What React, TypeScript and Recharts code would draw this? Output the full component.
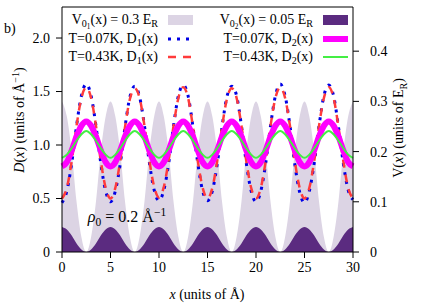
import React from "react";
import { ComposedChart, Area, Line, XAxis, YAxis } from "recharts";

// positions along x (units of Å)
const xs = [
  0, 0.5, 1, 1.5, 2, 2.5, 3, 3.5, 4, 4.5,
  5, 5.5, 6, 6.5, 7, 7.5, 8, 8.5, 9, 9.5,
  10, 10.5, 11, 11.5, 12, 12.5, 13, 13.5, 14, 14.5,
  15, 15.5, 16, 16.5, 17, 17.5, 18, 18.5, 19, 19.5,
  20, 20.5, 21, 21.5, 22, 22.5, 23, 23.5, 24, 24.5,
  25, 25.5, 26, 26.5, 27, 27.5, 28, 28.5, 29, 29.5,
  30,
];

// potentials (units of E_R)
const v1 = [
  0.3, 0.27, 0.2, 0.1, 0.03, 0, 0.03, 0.1, 0.2, 0.27,
  0.3, 0.27, 0.2, 0.1, 0.03, 0, 0.03, 0.1, 0.2, 0.27,
  0.3, 0.27, 0.2, 0.1, 0.03, 0, 0.03, 0.1, 0.2, 0.27,
  0.3, 0.27, 0.2, 0.1, 0.03, 0, 0.03, 0.1, 0.2, 0.27,
  0.3, 0.27, 0.2, 0.1, 0.03, 0, 0.03, 0.1, 0.2, 0.27,
  0.3, 0.27, 0.2, 0.1, 0.03, 0, 0.03, 0.1, 0.2, 0.27,
  0.3,
];
const v2 = [
  0.05, 0.045, 0.033, 0.017, 0.005, 0, 0.005, 0.017, 0.033, 0.045,
  0.05, 0.045, 0.033, 0.017, 0.005, 0, 0.005, 0.017, 0.033, 0.045,
  0.05, 0.045, 0.033, 0.017, 0.005, 0, 0.005, 0.017, 0.033, 0.045,
  0.05, 0.045, 0.033, 0.017, 0.005, 0, 0.005, 0.017, 0.033, 0.045,
  0.05, 0.045, 0.033, 0.017, 0.005, 0, 0.005, 0.017, 0.033, 0.045,
  0.05, 0.045, 0.033, 0.017, 0.005, 0, 0.005, 0.017, 0.033, 0.045,
  0.05,
];

// densities (units of 1/Å)
const d1Cold = [
  0.46, 0.57, 0.83, 1.18, 1.46, 1.57, 1.46, 1.18, 0.83, 0.57,
  0.47, 0.57, 0.82, 1.17, 1.45, 1.55, 1.45, 1.18, 0.84, 0.58,
  0.48, 0.58, 0.83, 1.18, 1.46, 1.56, 1.46, 1.17, 0.83, 0.57,
  0.48, 0.57, 0.82, 1.17, 1.45, 1.55, 1.46, 1.18, 0.83, 0.57,
  0.47, 0.57, 0.83, 1.18, 1.46, 1.57, 1.46, 1.18, 0.82, 0.56,
  0.46, 0.57, 0.83, 1.18, 1.46, 1.56, 1.46, 1.17, 0.83, 0.58,
  0.49,
];
const d1Warm = [
  0.5, 0.6, 0.85, 1.18, 1.44, 1.54, 1.44, 1.18, 0.85, 0.6,
  0.5, 0.6, 0.85, 1.17, 1.43, 1.53, 1.44, 1.18, 0.86, 0.61,
  0.51, 0.61, 0.86, 1.18, 1.44, 1.54, 1.44, 1.17, 0.85, 0.6,
  0.5, 0.6, 0.85, 1.17, 1.43, 1.53, 1.44, 1.18, 0.85, 0.6,
  0.5, 0.6, 0.85, 1.18, 1.44, 1.54, 1.44, 1.18, 0.85, 0.6,
  0.5, 0.6, 0.85, 1.18, 1.44, 1.54, 1.44, 1.17, 0.85, 0.6,
  0.5,
];
const d2Cold = [
  0.8, 0.84, 0.95, 1.08, 1.18, 1.22, 1.18, 1.08, 0.95, 0.84,
  0.8, 0.84, 0.95, 1.08, 1.18, 1.22, 1.18, 1.08, 0.95, 0.84,
  0.8, 0.84, 0.95, 1.08, 1.18, 1.22, 1.18, 1.08, 0.95, 0.84,
  0.8, 0.84, 0.95, 1.08, 1.18, 1.22, 1.18, 1.08, 0.95, 0.84,
  0.8, 0.84, 0.95, 1.08, 1.18, 1.22, 1.18, 1.08, 0.95, 0.84,
  0.8, 0.84, 0.95, 1.08, 1.18, 1.22, 1.18, 1.08, 0.95, 0.84,
  0.8,
];
const d2Warm = [
  0.88, 0.91, 0.97, 1.04, 1.1, 1.13, 1.1, 1.04, 0.97, 0.91,
  0.88, 0.91, 0.97, 1.04, 1.1, 1.13, 1.1, 1.04, 0.97, 0.91,
  0.88, 0.91, 0.97, 1.04, 1.1, 1.13, 1.1, 1.04, 0.97, 0.91,
  0.88, 0.91, 0.97, 1.04, 1.1, 1.13, 1.1, 1.04, 0.97, 0.91,
  0.88, 0.91, 0.97, 1.04, 1.1, 1.13, 1.1, 1.04, 0.97, 0.91,
  0.88, 0.91, 0.97, 1.04, 1.1, 1.13, 1.1, 1.04, 0.97, 0.91,
  0.88,
];

const xTicks = [0, 5, 10, 15, 20, 25, 30];
const dTicks = [0, 0.5, 1, 1.5, 2];
const vTicks = [0, 0.1, 0.2, 0.3, 0.4];

const data = xs.map((x, i) => ({
  x,
  v1: v1[i],
  v2: v2[i],
  d1Cold: d1Cold[i],
  d1Warm: d1Warm[i],
  d2Cold: d2Cold[i],
  d2Warm: d2Warm[i],
}));

const FONT = '"Liberation Serif", "Times New Roman", serif';
const tickStyle = { fill: "#000", fontSize: 14, fontFamily: FONT };

const sub = (t: React.ReactNode) => (
  <span style={{ fontSize: "0.72em", verticalAlign: "-0.3em" }}>{t}</span>
);
const sup = (t: React.ReactNode) => (
  <span style={{ fontSize: "0.72em", verticalAlign: "0.55em" }}>{t}</span>
);

const legendRows = [
  {
    right: 158, x1: 168, y: 20,
    text: <>V{sub(<>0{sub("1")}</>)}(x) = 0.3 E{sub("R")}</>,
    swatch: { kind: "box", color: "#dcd4e4" },
  },
  {
    right: 158, x1: 168, y: 39,
    text: <>T=0.07K, D{sub("1")}(x)</>,
    swatch: { kind: "line", color: "#0000e6", width: 3, dash: "3 6" },
  },
  {
    right: 158, x1: 168, y: 57,
    text: <>T=0.43K, D{sub("1")}(x)</>,
    swatch: { kind: "line", color: "#ff3b3b", width: 2.5, dash: "8 7" },
  },
  {
    right: 313, x1: 323, y: 20,
    text: <>V{sub(<>0{sub("2")}</>)}(x) = 0.05 E{sub("R")}</>,
    swatch: { kind: "box", color: "#5b2b80" },
  },
  {
    right: 313, x1: 323, y: 39,
    text: <>T=0.07K, D{sub("2")}(x)</>,
    swatch: { kind: "line", color: "#ff00ff", width: 6 },
  },
  {
    right: 313, x1: 323, y: 57,
    text: <>T=0.43K, D{sub("2")}(x)</>,
    swatch: { kind: "line", color: "#44ee44", width: 2 },
  },
];

export default function App() {
  return (
    <div
      style={{
        position: "absolute",
        left: 0,
        top: 0,
        width: 436,
        height: 305,
        background: "#fff",
        fontFamily: FONT,
        color: "#000",
      }}
    >
      <ComposedChart
        width={436}
        height={305}
        data={data}
        margin={{ top: 0, right: 0, bottom: 0, left: 0 }}
      >
        <XAxis
          xAxisId={0}
          dataKey="x"
          type="number"
          domain={[0, 30]}
          ticks={xTicks}
          height={53}
          tickSize={6}
          tickMargin={4}
          tick={tickStyle}
          stroke="#000"
        />
        <XAxis
          xAxisId="top"
          orientation="top"
          dataKey="x"
          type="number"
          domain={[0, 30]}
          ticks={xTicks}
          height={7}
          tickSize={6}
          tick={false}
          stroke="#000"
        />
        <YAxis
          yAxisId="left"
          type="number"
          domain={[0, 2.29]}
          ticks={dTicks}
          width={62}
          tickSize={6}
          tickMargin={6}
          tick={tickStyle}
          tickFormatter={(v: number) => (v === 0 ? "0" : v.toFixed(1))}
          stroke="#000"
        />
        <YAxis
          yAxisId="right"
          orientation="right"
          type="number"
          domain={[0, 0.488]}
          ticks={vTicks}
          width={83}
          tickSize={6}
          tickMargin={11}
          tick={{ ...tickStyle, textAnchor: "start" }}
          tickFormatter={(v: number) => (v === 0 ? "0" : v.toFixed(1))}
          stroke="#000"
        />
        <Area
          yAxisId="right"
          dataKey="v1"
          type="monotone"
          fill="#dcd4e4"
          fillOpacity={1}
          stroke="none"
          isAnimationActive={false}
        />
        <Area
          yAxisId="right"
          dataKey="v2"
          type="monotone"
          fill="#5b2b80"
          fillOpacity={1}
          stroke="none"
          isAnimationActive={false}
        />
        <Line
          yAxisId="left"
          dataKey="d1Cold"
          type="monotone"
          stroke="#0000e6"
          strokeWidth={3}
          strokeDasharray="3 6"
          dot={false}
          isAnimationActive={false}
        />
        <Line
          yAxisId="left"
          dataKey="d1Warm"
          type="monotone"
          stroke="#ff3b3b"
          strokeWidth={2.5}
          strokeDasharray="8 7"
          dot={false}
          isAnimationActive={false}
        />
        <Line
          yAxisId="left"
          dataKey="d2Cold"
          type="monotone"
          stroke="#ff00ff"
          strokeWidth={6}
          dot={false}
          isAnimationActive={false}
        />
        <Line
          yAxisId="left"
          dataKey="d2Warm"
          type="monotone"
          stroke="#44ee44"
          strokeWidth={2}
          dot={false}
          isAnimationActive={false}
        />
      </ComposedChart>

      {/* key, drawn over the top of the plot */}
      {legendRows.map((r, i) => (
        <React.Fragment key={i}>
          <div
            style={{
              position: "absolute",
              right: 436 - r.right,
              top: r.y - 9,
              height: 18,
              lineHeight: "18px",
              fontSize: 14,
              whiteSpace: "nowrap",
            }}
          >
            {r.text}
          </div>
          <svg
            width={26}
            height={12}
            style={{ position: "absolute", left: r.x1, top: r.y - 6 }}
          >
            {r.swatch.kind === "box" ? (
              <rect x={0} y={1} width={25} height={10} fill={r.swatch.color} />
            ) : (
              <line
                x1={0}
                y1={6}
                x2={25}
                y2={6}
                stroke={r.swatch.color}
                strokeWidth={r.swatch.width}
                strokeDasharray={r.swatch.dash}
              />
            )}
          </svg>
        </React.Fragment>
      ))}

      <div style={{ position: "absolute", left: 4, top: 21, fontSize: 14, lineHeight: "16px" }}>b)</div>

      <div
        style={{
          position: "absolute",
          left: 127,
          top: 217,
          transform: "translate(-50%, -50%)",
          fontSize: 16,
          whiteSpace: "nowrap",
        }}
      >
        <i>ρ</i>
        {sub("0")} = 0.2 Å{sup("−1")}
      </div>

      <div
        style={{
          position: "absolute",
          left: 19,
          top: 120,
          transform: "translate(-50%, -50%) rotate(-90deg)",
          fontSize: 14,
          whiteSpace: "nowrap",
        }}
      >
        <i>D</i>(<i>x</i>) (units of Å{sup("−1")})
      </div>

      <div
        style={{
          position: "absolute",
          left: 400,
          top: 128,
          transform: "translate(-50%, -50%) rotate(-90deg)",
          fontSize: 14,
          whiteSpace: "nowrap",
        }}
      >
        V(<i>x</i>) (units of E{sub("R")})
      </div>

      <div
        style={{
          position: "absolute",
          left: 207,
          top: 295,
          transform: "translate(-50%, -50%)",
          fontSize: 14,
          whiteSpace: "nowrap",
        }}
      >
        <i>x</i> (units of Å)
      </div>
    </div>
  );
}
